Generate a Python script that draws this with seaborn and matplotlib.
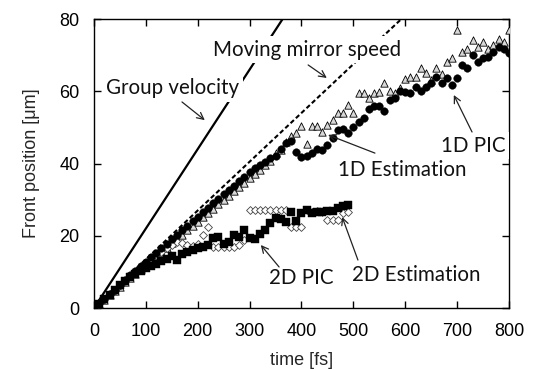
import numpy as np
import pandas as pd
import matplotlib
matplotlib.use("Agg")
import matplotlib.pyplot as plt
import seaborn as sns

# ---------------- data ----------------
t_1d = list(range(0, 801, 10))
pic_1d = [0, 1.3, 2.6, 3.9, 5.1, 6.4, 7.7, 9.0, 10.2, 11.5,
          12.8, 14.0, 15.3, 16.5, 17.8, 19.0, 20.3, 21.5, 22.8, 24.0,
          25.3, 26.5, 27.8, 29.0, 30.2, 31.5, 32.7, 33.9, 35.2, 36.4,
          37.6, 38.8, 39.6, 40.5, 41.6, 42.2, 44.0, 45.6, 46.2, 43.2,
          41.9, 42.0, 42.8, 44.0, 43.6, 45.2, 47.0, 49.2, 49.6, 48.5,
          50.0, 51.5, 52.5, 55.0, 56.0, 56.0, 54.5, 57.5, 58.0, 60.0,
          59.7, 59.4, 61.2, 60.0, 61.2, 62.2, 64.0, 62.2, 63.8, 61.6,
          63.8, 67.2, 66.5, 70.0, 68.2, 69.3, 69.6, 70.9, 72.3, 71.8,
          70.7]
est_1d = [0, 1.1, 2.3, 3.5, 4.7, 5.9, 7.1, 8.3, 9.5, 10.7,
          11.9, 13.1, 14.3, 15.5, 16.7, 17.9, 19.1, 20.3, 21.5, 22.7,
          23.9, 25.1, 26.3, 27.5, 28.7, 29.9, 31.1, 32.3, 33.5, 34.7,
          35.9, 37.1, 38.3, 39.5, 40.6, 43.0, 43.6, 46.0, 47.6, 48.5,
          50.5, 45.5, 50.4, 50.5, 48.8, 50.6, 52.0, 53.9, 54.0, 56.3,
          54.0, 59.4, 59.4, 58.0, 59.4, 59.8, 62.2, 60.0, 59.4, 60.8,
          63.5, 64.0, 64.0, 66.3, 65.0, 63.1, 66.3, 64.9, 68.1, 69.3,
          76.9, 70.9, 71.8, 74.1, 72.3, 73.7, 71.8, 72.8, 74.4, 73.5,
          76.9]

t_2d = list(range(0, 491, 10))
pic_2d = [0, 1.2, 2.6, 3.7, 5.0, 6.4, 7.6, 8.5, 9.4, 10.2,
          11.0, 11.6, 12.3, 13.0, 13.6, 14.3, 13.4, 15.0, 15.6, 16.0,
          16.5, 17.0, 17.4, 19.3, 19.6, 17.8, 18.4, 20.2, 19.7, 21.6,
          19.4, 19.0, 20.5, 21.6, 23.4, 24.8, 24.7, 23.8, 26.6, 24.0,
          26.2, 27.1, 26.2, 26.6, 26.6, 26.9, 26.9, 27.6, 28.2, 28.5]
est_2d = [0, 1.3, 2.6, 3.9, 5.1, 6.4, 7.6, 8.8, 10.0, 11.2,
          12.4, 13.5, 14.6, 15.6, 16.6, 17.5, 18.2, 18.0, 17.5, 17.3,
          17.6, 20.2, 22.4, 16.8, 17.0, 17.0, 17.0, 17.0, 17.4, 18.8,
          27.1, 27.1, 27.1, 27.1, 27.1, 27.1, 27.1, 27.1, 22.4, 22.4,
          22.4, 27.0, 26.5, 26.8, 26.5, 24.3, 24.3, 24.3, 26.4, 26.6]

t_line = [0, 800]
group_velocity = [0, 176]
mirror_speed = [0, 108]

xticks = [0, 100, 200, 300, 400, 500, 600, 700, 800]
yticks = [0, 20, 40, 60, 80]

# ---------------- figure ----------------
sns.set_style("ticks")
plt.rcParams['font.family'] = ['Liberation Sans', 'DejaVu Sans']

fig = plt.figure(figsize=(5.39, 3.69), dpi=100)
ax = fig.add_axes([0.1744, 0.1653, 0.7699, 0.7832])

lines = pd.DataFrame({"t": t_line, "g": group_velocity, "m": mirror_speed})
sns.lineplot(data=lines, x="t", y="g", ax=ax, color="black", lw=1.6, zorder=1)
sns.lineplot(data=lines, x="t", y="m", ax=ax, color="black", lw=1.5,
             linestyle=(0, (2.2, 1.3)), zorder=1)

d1 = pd.DataFrame({"t": t_1d, "pic": pic_1d, "est": est_1d})
d2 = pd.DataFrame({"t": t_2d, "pic": pic_2d, "est": est_2d})

sns.scatterplot(data=d1, x="t", y="est", ax=ax, marker="^", s=28,
                color="#d8d8d8", edgecolor="black", linewidth=0.6, zorder=4)
sns.scatterplot(data=d2, x="t", y="est", ax=ax, marker="D", s=16,
                color="white", edgecolor="#444444", linewidth=0.6, zorder=5)
sns.scatterplot(data=d1, x="t", y="pic", ax=ax, marker="o", s=30,
                color="black", edgecolor="black", linewidth=0.3, zorder=6)
sns.scatterplot(data=d2, x="t", y="pic", ax=ax, marker="s", s=26,
                color="black", edgecolor="black", linewidth=0.3, zorder=6)

ax.set_xlim(0, 800)
ax.set_ylim(0, 80)
ax.set_xticks(xticks)
ax.set_yticks(yticks)
ax.tick_params(direction="in", length=5, width=1, top=True, right=True,
               labelsize=13, colors="black", pad=10.5)
for sp in ax.spines.values():
    sp.set_visible(True)
    sp.set_linewidth(1.0)
    sp.set_color("black")

ax.set_xlabel("time [fs]", fontsize=13, labelpad=9)
ax.set_ylabel("Front position [\u03bcm]", fontsize=13, labelpad=14)

# annotations
afont = dict(family=["Lato", "DejaVu Sans"], fontsize=14.8, color="#111111")
labels = [
    ("Group velocity", (0.190, 0.761), (0.212, 0.713), (0.267, 0.650)),
    ("Moving mirror speed", (0.513, 0.893), (0.516, 0.841), (0.561, 0.796)),
    ("1D Estimation", (0.742, 0.478), (0.677, 0.536), (0.564, 0.599)),
    ("1D PIC", (0.913, 0.561), (0.911, 0.609), (0.867, 0.737)),
    ("2D PIC", (0.499, 0.104), (0.446, 0.142), (0.402, 0.218)),
    ("2D Estimation", (0.776, 0.114), (0.636, 0.166), (0.598, 0.315)),
]
for txt, pos, tail, head in labels:
    ax.text(pos[0], pos[1], txt, transform=ax.transAxes, ha="center",
            va="center", zorder=3,
            bbox=dict(facecolor="white", edgecolor="none", pad=2.5), **afont)
    ax.annotate("", xy=head, xytext=tail, xycoords="axes fraction",
                textcoords="axes fraction", zorder=7,
                arrowprops=dict(arrowstyle="->", lw=0.9, color="#222222",
                                shrinkA=0, shrinkB=0, mutation_scale=12))

fig.savefig("out.png", dpi=100)
